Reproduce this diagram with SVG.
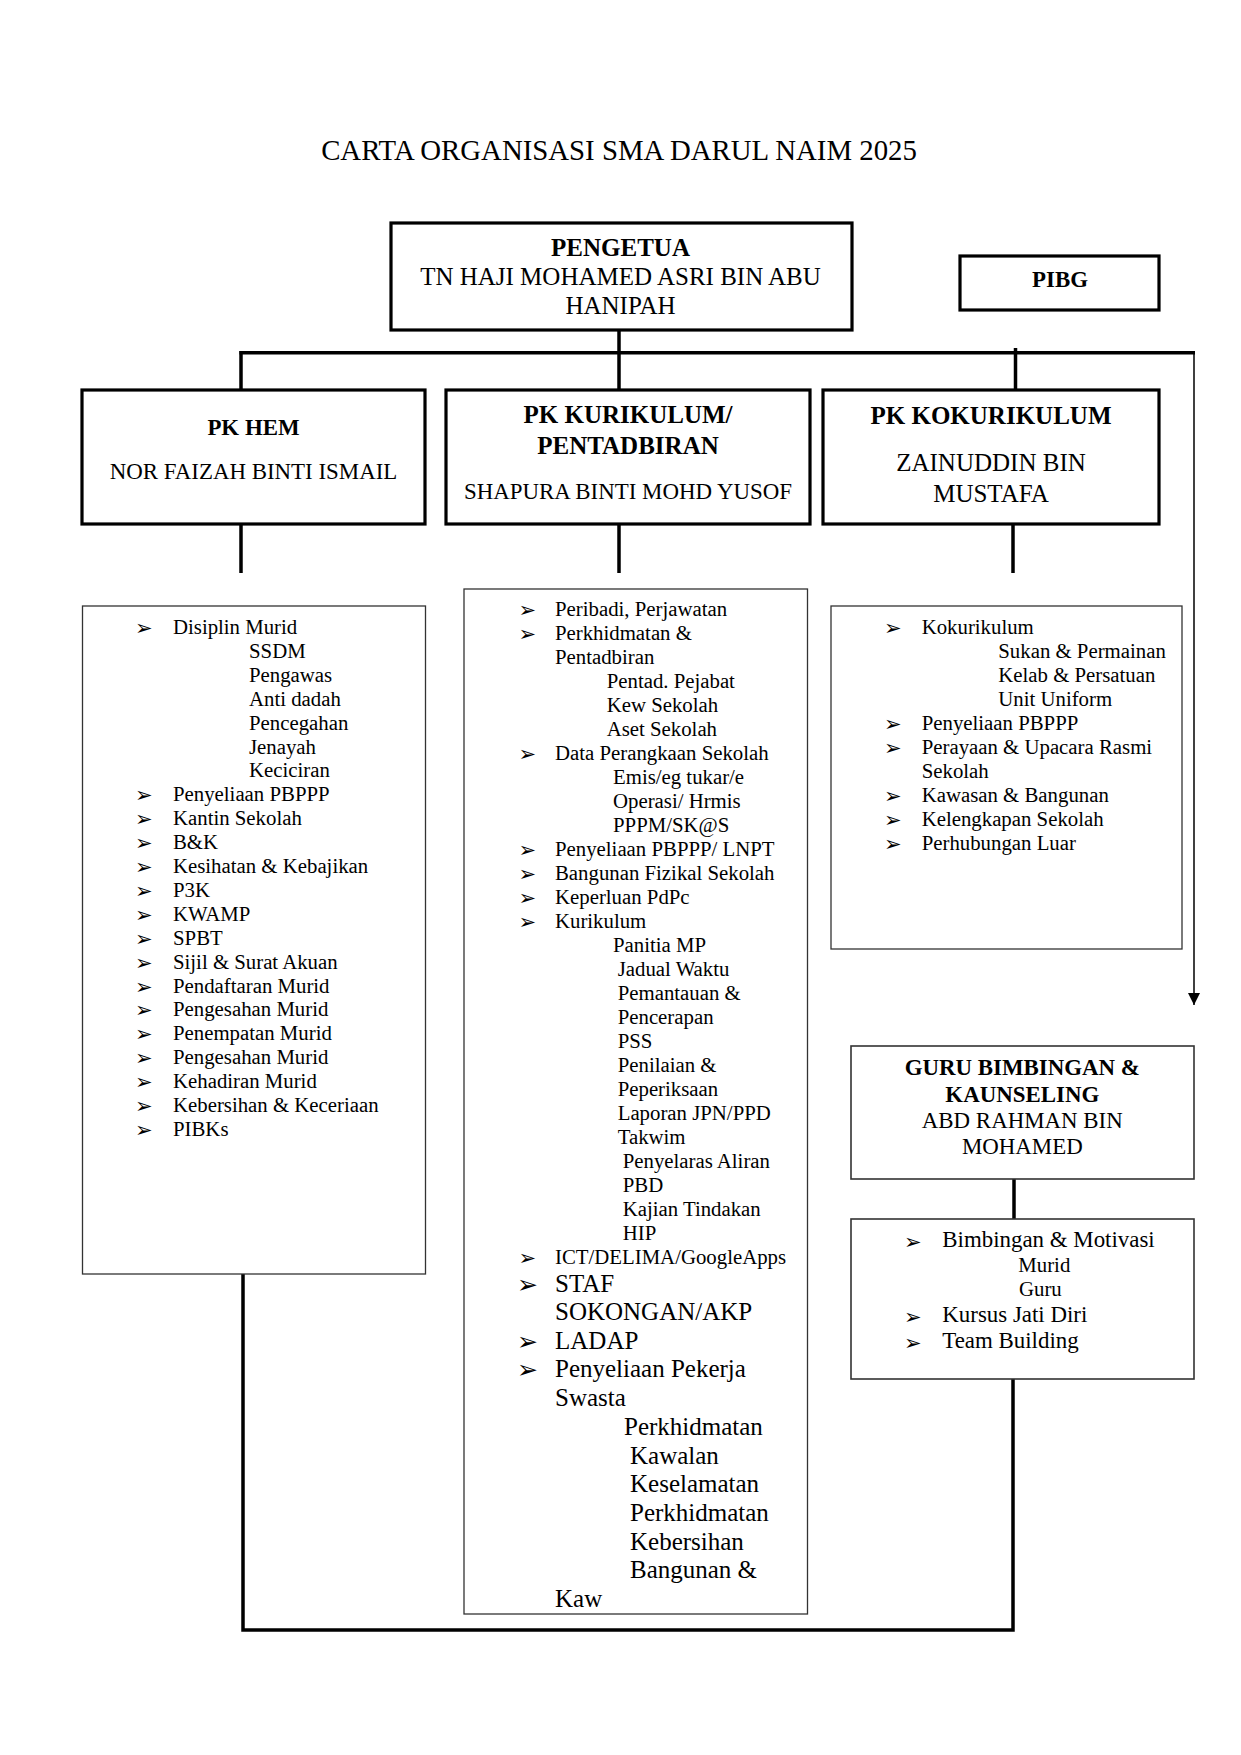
<svg xmlns="http://www.w3.org/2000/svg" width="1241" height="1755" viewBox="0 0 1241 1755">
<defs>
<style>
text { font-family: "Liberation Serif", "Times New Roman", serif; fill: #000; }
.t { font-size: 28.8px; }
.h { font-size: 25px; font-weight: bold; }
.hs { font-size: 22.9px; font-weight: bold; }
.n { font-size: 25px; }
.ns { font-size: 22.9px; }
.l { font-size: 20.8px; }
.L { font-size: 25px; }
.b { font-family: "DejaVu Sans", sans-serif; font-size: 21px; }
.B { font-family: "DejaVu Sans", sans-serif; font-size: 25px; }
.box { fill: #fff; stroke: #000; stroke-width: 3.2; }
.lbox { fill: #fff; stroke: #333; stroke-width: 1.3; }
.gbox { fill: #fff; stroke: #333; stroke-width: 1.6; }
.c { fill: none; stroke: #000; stroke-width: 3.5; }
.thin { fill: none; stroke: #000; stroke-width: 1.5; }
.m { text-anchor: middle; }
</style>
<marker id="ah" viewBox="0 0 12 12" refX="12" refY="6" markerWidth="12" markerHeight="12" orient="auto" markerUnits="userSpaceOnUse">
<path d="M0,0 L12,6 L0,12 z" fill="#000"/>
</marker>
</defs>
<rect x="0" y="0" width="1241" height="1755" fill="#fff"/>

<text id="title" class="t m" x="619" y="160">CARTA ORGANISASI SMA DARUL NAIM 2025</text>

<g id="connectors">
<line class="c" x1="619" y1="328" x2="619" y2="391"/>
<line class="c" x1="239.5" y1="352.7" x2="1195" y2="352.7"/>
<line class="c" x1="241" y1="351" x2="241" y2="391"/>
<line class="c" x1="1015.5" y1="348" x2="1015.5" y2="391"/>
<line class="thin" x1="1194" y1="352" x2="1194" y2="1005" marker-end="url(#ah)"/>
<line class="c" x1="241" y1="523" x2="241" y2="573"/>
<line class="c" x1="619" y1="523" x2="619" y2="573"/>
<line class="c" x1="1013" y1="523" x2="1013" y2="573"/>
<line class="c" x1="1014" y1="1178" x2="1014" y2="1220"/>
<polyline class="c" points="243,1248 243,1630 1013,1630 1013,1378"/>
</g>

<g id="pengetua">
<rect class="box" x="391" y="223" width="461" height="107"/>
<text class="h m" x="620.5" y="256">PENGETUA</text>
<text class="n m" x="620.5" y="285">TN HAJI MOHAMED ASRI BIN ABU</text>
<text class="n m" x="620.5" y="314">HANIPAH</text>
</g>

<g id="pibg">
<rect class="box" x="960" y="256" width="199" height="54"/>
<text class="hs m" x="1060" y="287">PIBG</text>
</g>

<g id="pk-hem">
<rect class="box" x="82" y="390" width="343" height="134"/>
<text class="hs m" x="253.5" y="435">PK HEM</text>
<text class="ns m" x="253.5" y="479">NOR FAIZAH BINTI ISMAIL</text>
</g>

<g id="pk-kurikulum">
<rect class="box" x="446" y="390" width="364" height="134"/>
<text class="h m" x="628" y="423">PK KURIKULUM/</text>
<text class="h m" x="628" y="454">PENTADBIRAN</text>
<text class="ns m" x="628" y="498.5">SHAPURA BINTI MOHD YUSOF</text>
</g>

<g id="pk-kokurikulum">
<rect class="box" x="823" y="390" width="336" height="134"/>
<text class="h m" x="991" y="423.5">PK KOKURIKULUM</text>
<text class="n m" x="991" y="470.5">ZAINUDDIN BIN</text>
<text class="n m" x="991" y="502">MUSTAFA</text>
</g>

<g id="list-hem">
<rect class="lbox" x="82.5" y="606" width="343" height="668"/>
<text class="b" x="135" y="635">➢</text><text class="l" x="173" y="634">Disiplin Murid</text>
<text class="l" x="249" y="657.9">SSDM</text>
<text class="l" x="249" y="681.8">Pengawas</text>
<text class="l" x="249" y="705.7">Anti dadah</text>
<text class="l" x="249" y="729.6">Pencegahan</text>
<text class="l" x="249" y="753.5">Jenayah</text>
<text class="l" x="249" y="777.4">Keciciran</text>
<text class="b" x="135" y="802.3">➢</text><text class="l" x="173" y="801.3">Penyeliaan PBPPP</text>
<text class="b" x="135" y="826.2">➢</text><text class="l" x="173" y="825.2">Kantin Sekolah</text>
<text class="b" x="135" y="850.1">➢</text><text class="l" x="173" y="849.1">B&amp;K</text>
<text class="b" x="135" y="874">➢</text><text class="l" x="173" y="873">Kesihatan &amp; Kebajikan</text>
<text class="b" x="135" y="897.9">➢</text><text class="l" x="173" y="896.9">P3K</text>
<text class="b" x="135" y="921.8">➢</text><text class="l" x="173" y="920.8">KWAMP</text>
<text class="b" x="135" y="945.7">➢</text><text class="l" x="173" y="944.7">SPBT</text>
<text class="b" x="135" y="969.6">➢</text><text class="l" x="173" y="968.6">Sijil &amp; Surat Akuan</text>
<text class="b" x="135" y="993.5">➢</text><text class="l" x="173" y="992.5">Pendaftaran Murid</text>
<text class="b" x="135" y="1017.4">➢</text><text class="l" x="173" y="1016.4">Pengesahan Murid</text>
<text class="b" x="135" y="1041.3">➢</text><text class="l" x="173" y="1040.3">Penempatan Murid</text>
<text class="b" x="135" y="1065.2">➢</text><text class="l" x="173" y="1064.2">Pengesahan Murid</text>
<text class="b" x="135" y="1089.1">➢</text><text class="l" x="173" y="1088.1">Kehadiran Murid</text>
<text class="b" x="135" y="1113">➢</text><text class="l" x="173" y="1112">Kebersihan &amp; Keceriaan</text>
<text class="b" x="135" y="1136.9">➢</text><text class="l" x="173" y="1135.9">PIBKs</text>
</g>

<g id="list-kurikulum">
<rect class="lbox" x="464" y="589" width="343.5" height="1025"/>
<text class="b" x="518.5" y="617">➢</text><text class="l" x="555" y="616">Peribadi, Perjawatan</text>
<text class="b" x="518.5" y="641">➢</text><text class="l" x="555" y="640">Perkhidmatan &amp;</text>
<text class="l" x="555" y="664">Pentadbiran</text>
<text class="l" x="606.7" y="688">Pentad. Pejabat</text>
<text class="l" x="606.7" y="712">Kew Sekolah</text>
<text class="l" x="606.7" y="736">Aset Sekolah</text>
<text class="b" x="518.5" y="761">➢</text><text class="l" x="555" y="760">Data Perangkaan Sekolah</text>
<text class="l" x="613" y="784">Emis/eg tukar/e</text>
<text class="l" x="613" y="808">Operasi/ Hrmis</text>
<text class="l" x="613" y="832">PPPM/SK@S</text>
<text class="b" x="518.5" y="856.5">➢</text><text class="l" x="555" y="855.5">Penyeliaan PBPPP/ LNPT</text>
<text class="b" x="518.5" y="880.5">➢</text><text class="l" x="555" y="879.5">Bangunan Fizikal Sekolah</text>
<text class="b" x="518.5" y="904.5">➢</text><text class="l" x="555" y="903.5">Keperluan PdPc</text>
<text class="b" x="518.5" y="928.5">➢</text><text class="l" x="555" y="927.5">Kurikulum</text>
<text class="l" x="613" y="951.5">Panitia MP</text>
<text class="l" x="617.7" y="975.5">Jadual Waktu</text>
<text class="l" x="617.7" y="999.5">Pemantauan &amp;</text>
<text class="l" x="617.7" y="1023.5">Pencerapan</text>
<text class="l" x="617.7" y="1047.5">PSS</text>
<text class="l" x="617.7" y="1071.5">Penilaian &amp;</text>
<text class="l" x="617.7" y="1095.5">Peperiksaan</text>
<text class="l" x="617.7" y="1119.5">Laporan JPN/PPD</text>
<text class="l" x="617.7" y="1143.5">Takwim</text>
<text class="l" x="622.7" y="1167.5">Penyelaras Aliran</text>
<text class="l" x="622.7" y="1191.5">PBD</text>
<text class="l" x="622.7" y="1215.5">Kajian Tindakan</text>
<text class="l" x="622.7" y="1239.5">HIP</text>
<text class="b" x="518.5" y="1264.5">➢</text><text class="l" x="555" y="1263.5">ICT/DELIMA/GoogleApps</text>
<text class="B" x="517" y="1293">➢</text><text class="L" x="555" y="1291.7">STAF</text>
<text class="L" x="555" y="1320">SOKONGAN/AKP</text>
<text class="B" x="517" y="1349.8">➢</text><text class="L" x="555" y="1348.5">LADAP</text>
<text class="B" x="517" y="1378.3">➢</text><text class="L" x="555" y="1377">Penyeliaan Pekerja</text>
<text class="L" x="555" y="1406">Swasta</text>
<text class="L" x="624" y="1435">Perkhidmatan</text>
<text class="L" x="630" y="1463.5">Kawalan</text>
<text class="L" x="630" y="1492">Keselamatan</text>
<text class="L" x="630" y="1520.5">Perkhidmatan</text>
<text class="L" x="630" y="1549.5">Kebersihan</text>
<text class="L" x="630" y="1578">Bangunan &amp;</text>
<text class="L" x="555" y="1606.5">Kaw</text>
</g>

<g id="list-kokurikulum">
<rect class="lbox" x="831" y="606" width="351" height="343"/>
<text class="b" x="884" y="634.5">➢</text><text class="l" x="921.7" y="633.5">Kokurikulum</text>
<text class="l" x="998.3" y="657.5">Sukan &amp; Permainan</text>
<text class="l" x="998.3" y="681.5">Kelab &amp; Persatuan</text>
<text class="l" x="998.3" y="705.5">Unit Uniform</text>
<text class="b" x="884" y="730.5">➢</text><text class="l" x="921.7" y="729.5">Penyeliaan PBPPP</text>
<text class="b" x="884" y="754.5">➢</text><text class="l" x="921.7" y="753.5">Perayaan &amp; Upacara Rasmi</text>
<text class="l" x="921.7" y="777.5">Sekolah</text>
<text class="b" x="884" y="802.5">➢</text><text class="l" x="921.7" y="801.5">Kawasan &amp; Bangunan</text>
<text class="b" x="884" y="826.5">➢</text><text class="l" x="921.7" y="825.5">Kelengkapan Sekolah</text>
<text class="b" x="884" y="850.5">➢</text><text class="l" x="921.7" y="849.5">Perhubungan Luar</text>
</g>

<g id="guru-bk">
<rect class="gbox" x="851" y="1046" width="343" height="133"/>
<text class="hs m" x="1022.3" y="1075">GURU BIMBINGAN &amp;</text>
<text class="hs m" x="1022.3" y="1101.7">KAUNSELING</text>
<text class="ns m" x="1022.3" y="1128.3">ABD RAHMAN BIN</text>
<text class="ns m" x="1022.3" y="1154.3">MOHAMED</text>
</g>

<g id="list-bk">
<rect class="gbox" x="851" y="1219" width="343" height="160"/>
<text class="b" x="904" y="1248.5">➢</text><text class="ns" x="942.3" y="1247.3">Bimbingan &amp; Motivasi</text>
<text class="l" x="1018.3" y="1271.7">Murid</text>
<text class="l" x="1019" y="1295.7">Guru</text>
<text class="b" x="904" y="1323.5">➢</text><text class="ns" x="942.3" y="1322.3">Kursus Jati Diri</text>
<text class="b" x="904" y="1349.5">➢</text><text class="ns" x="942.3" y="1348.3">Team Building</text>
</g>
</svg>
